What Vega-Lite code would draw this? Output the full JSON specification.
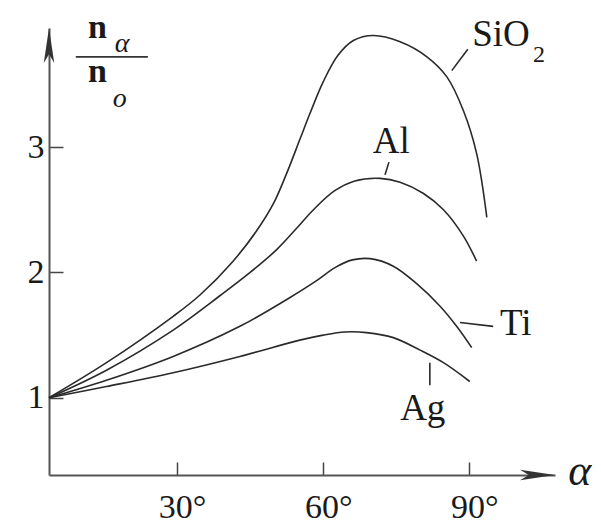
{
  "$schema": "https://vega.github.io/schema/vega-lite/v6.json",
  "width": 506,
  "height": 447,
  "autosize": {"type": "none"},
  "padding": {"left": 49, "top": 28, "right": 46, "bottom": 52},
  "background": "white",
  "config": {
    "view": {"stroke": null},
    "font": "Liberation Serif, Times New Roman, serif"
  },
  "datasets": {
    "curves": [
      {"material": "SiO2", "angle": 3.7, "ratio": 1.0},
      {"material": "SiO2", "angle": 15.5, "ratio": 1.28},
      {"material": "SiO2", "angle": 29.2, "ratio": 1.65},
      {"material": "SiO2", "angle": 34.7, "ratio": 1.82},
      {"material": "SiO2", "angle": 41.5, "ratio": 2.09},
      {"material": "SiO2", "angle": 46.3, "ratio": 2.33},
      {"material": "SiO2", "angle": 49.8, "ratio": 2.55},
      {"material": "SiO2", "angle": 52.5, "ratio": 2.79},
      {"material": "SiO2", "angle": 55.2, "ratio": 3.06},
      {"material": "SiO2", "angle": 57.3, "ratio": 3.27},
      {"material": "SiO2", "angle": 60.0, "ratio": 3.52},
      {"material": "SiO2", "angle": 63.0, "ratio": 3.73},
      {"material": "SiO2", "angle": 66.2, "ratio": 3.85},
      {"material": "SiO2", "angle": 70.3, "ratio": 3.89},
      {"material": "SiO2", "angle": 75.8, "ratio": 3.84},
      {"material": "SiO2", "angle": 81.3, "ratio": 3.72},
      {"material": "SiO2", "angle": 85.4, "ratio": 3.56},
      {"material": "SiO2", "angle": 88.8, "ratio": 3.29},
      {"material": "SiO2", "angle": 91.5, "ratio": 2.95},
      {"material": "SiO2", "angle": 93.6, "ratio": 2.44},
      {"material": "Al", "angle": 3.7, "ratio": 1.0},
      {"material": "Al", "angle": 15.5, "ratio": 1.22},
      {"material": "Al", "angle": 29.2, "ratio": 1.54},
      {"material": "Al", "angle": 39.0, "ratio": 1.82},
      {"material": "Al", "angle": 45.0, "ratio": 2.0},
      {"material": "Al", "angle": 50.4, "ratio": 2.18},
      {"material": "Al", "angle": 54.5, "ratio": 2.35},
      {"material": "Al", "angle": 58.0, "ratio": 2.5},
      {"material": "Al", "angle": 62.3, "ratio": 2.65},
      {"material": "Al", "angle": 66.5, "ratio": 2.73},
      {"material": "Al", "angle": 71.7, "ratio": 2.75},
      {"material": "Al", "angle": 75.8, "ratio": 2.72},
      {"material": "Al", "angle": 80.6, "ratio": 2.63},
      {"material": "Al", "angle": 84.7, "ratio": 2.5},
      {"material": "Al", "angle": 88.8, "ratio": 2.29},
      {"material": "Al", "angle": 91.5, "ratio": 2.09},
      {"material": "Ti", "angle": 3.7, "ratio": 1.0},
      {"material": "Ti", "angle": 15.5, "ratio": 1.14},
      {"material": "Ti", "angle": 29.2, "ratio": 1.33},
      {"material": "Ti", "angle": 42.9, "ratio": 1.57},
      {"material": "Ti", "angle": 53.2, "ratio": 1.8},
      {"material": "Ti", "angle": 58.5, "ratio": 1.93},
      {"material": "Ti", "angle": 62.5, "ratio": 2.04},
      {"material": "Ti", "angle": 66.0, "ratio": 2.1},
      {"material": "Ti", "angle": 69.6, "ratio": 2.11},
      {"material": "Ti", "angle": 74.4, "ratio": 2.05},
      {"material": "Ti", "angle": 79.2, "ratio": 1.91},
      {"material": "Ti", "angle": 84.0, "ratio": 1.73},
      {"material": "Ti", "angle": 87.4, "ratio": 1.57},
      {"material": "Ti", "angle": 90.5, "ratio": 1.4},
      {"material": "Ag", "angle": 3.7, "ratio": 1.0},
      {"material": "Ag", "angle": 15.5, "ratio": 1.09},
      {"material": "Ag", "angle": 29.2, "ratio": 1.2},
      {"material": "Ag", "angle": 42.9, "ratio": 1.33},
      {"material": "Ag", "angle": 55.2, "ratio": 1.46},
      {"material": "Ag", "angle": 60.0, "ratio": 1.5},
      {"material": "Ag", "angle": 64.5, "ratio": 1.525},
      {"material": "Ag", "angle": 68.9, "ratio": 1.52},
      {"material": "Ag", "angle": 74.4, "ratio": 1.48},
      {"material": "Ag", "angle": 79.9, "ratio": 1.38},
      {"material": "Ag", "angle": 84.7, "ratio": 1.28},
      {"material": "Ag", "angle": 90.1, "ratio": 1.13}
    ],
    "leaders": [
      {"material": "SiO2", "a1": 89.7, "r1": 3.78, "a2": 86.4, "r2": 3.61},
      {"material": "Al", "a1": 73.5, "r1": 2.88, "a2": 72.7, "r2": 2.78},
      {"material": "Ti", "a1": 88.1, "r1": 1.6, "a2": 94.9, "r2": 1.57},
      {"material": "Ag", "a1": 81.9, "r1": 1.28, "a2": 81.9, "r2": 1.1}
    ],
    "names": [
      {"text": "SiO", "angle": 90.6, "ratio": 3.81},
      {"text": "Al", "angle": 70.2, "ratio": 2.95},
      {"text": "Ti", "angle": 96.3, "ratio": 1.5},
      {"text": "Ag", "angle": 75.8, "ratio": 0.825}
    ],
    "subscripts": [
      {"text": "2", "angle": 103.1, "ratio": 3.68}
    ],
    "boldN": [
      {"text": "n", "angle": 11.7, "ratio": 3.87},
      {"text": "n", "angle": 11.7, "ratio": 3.52}
    ],
    "italics": [
      {"text": "α", "angle": 17.2, "ratio": 3.76},
      {"text": "o", "angle": 16.8, "ratio": 3.32}
    ],
    "axisSymbol": [
      {"text": "α", "angle": 110.3, "ratio": 0.307}
    ],
    "fractionBar": [
      {"a1": 9.2, "a2": 24.0, "r": 3.72}
    ],
    "yArrow": [{"angle": 3.7, "ratio": 3.95}],
    "xArrow": [{"angle": 107.6, "ratio": 0.384}]
  },
  "layer": [
    {
      "data": {"name": "curves"},
      "mark": {"type": "line", "interpolate": "catmull-rom", "color": "#2a2a2a", "strokeWidth": 1.6},
      "encoding": {
        "x": {
          "field": "angle", "type": "quantitative",
          "scale": {"domain": [3.7, 107.6], "nice": false, "zero": false},
          "axis": {
            "values": [30, 60, 90],
            "labelExpr": "datum.value + '°'",
            "title": null,
            "grid": false,
            "domainColor": "#555",
            "domainWidth": 2,
            "tickColor": "#444",
            "tickWidth": 1.5,
            "tickSize": -13,
            "labelPadding": 28,
            "labelFont": "Liberation Serif, Times New Roman, serif",
            "labelFontSize": 34,
            "labelColor": "#1a1a1a",
            "labelOffset": 5,
            "labelFlush": false
          }
        },
        "y": {
          "field": "ratio", "type": "quantitative",
          "scale": {"domain": [0.384, 3.95], "nice": false, "zero": false},
          "axis": {
            "values": [1, 2, 3],
            "format": "d",
            "title": null,
            "grid": false,
            "domainColor": "#555",
            "domainWidth": 2,
            "tickColor": "#444",
            "tickWidth": 1.5,
            "tickSize": -14,
            "labelPadding": 19,
            "labelFont": "Liberation Serif, Times New Roman, serif",
            "labelFontSize": 34,
            "labelColor": "#1a1a1a",
            "labelFlush": false
          }
        },
        "detail": {"field": "material", "type": "nominal"}
      }
    },
    {
      "data": {"name": "leaders"},
      "mark": {"type": "rule", "color": "#2a2a2a", "strokeWidth": 1.6},
      "encoding": {
        "x": {"field": "a1", "type": "quantitative"},
        "x2": {"field": "a2"},
        "y": {"field": "r1", "type": "quantitative"},
        "y2": {"field": "r2"}
      }
    },
    {
      "data": {"name": "fractionBar"},
      "mark": {"type": "rule", "color": "#333", "strokeWidth": 1.6},
      "encoding": {
        "x": {"field": "a1", "type": "quantitative"},
        "x2": {"field": "a2"},
        "y": {"field": "r", "type": "quantitative"}
      }
    },
    {
      "data": {"name": "yArrow"},
      "mark": {"type": "point", "shape": "M0,0L-0.3,2L0,1.5L0.3,2Z", "size": 1225, "filled": true, "color": "#333", "opacity": 1},
      "encoding": {
        "x": {"field": "angle", "type": "quantitative"},
        "y": {"field": "ratio", "type": "quantitative"}
      }
    },
    {
      "data": {"name": "xArrow"},
      "mark": {"type": "point", "shape": "M0,0L-0.3,2L0,1.5L0.3,2Z", "size": 1225, "angle": 90, "filled": true, "color": "#333", "opacity": 1},
      "encoding": {
        "x": {"field": "angle", "type": "quantitative"},
        "y": {"field": "ratio", "type": "quantitative"}
      }
    },
    {
      "data": {"name": "names"},
      "mark": {"type": "text", "font": "Liberation Serif, Times New Roman, serif", "fontSize": 37, "align": "left", "baseline": "alphabetic", "color": "#1a1a1a"},
      "encoding": {
        "x": {"field": "angle", "type": "quantitative"},
        "y": {"field": "ratio", "type": "quantitative"},
        "text": {"field": "text"}
      }
    },
    {
      "data": {"name": "subscripts"},
      "mark": {"type": "text", "font": "Liberation Serif, Times New Roman, serif", "fontSize": 24, "align": "left", "baseline": "alphabetic", "color": "#1a1a1a"},
      "encoding": {
        "x": {"field": "angle", "type": "quantitative"},
        "y": {"field": "ratio", "type": "quantitative"},
        "text": {"field": "text"}
      }
    },
    {
      "data": {"name": "boldN"},
      "mark": {"type": "text", "font": "Liberation Serif, Times New Roman, serif", "fontSize": 34, "fontWeight": "bold", "align": "left", "baseline": "alphabetic", "color": "#1a1a1a"},
      "encoding": {
        "x": {"field": "angle", "type": "quantitative"},
        "y": {"field": "ratio", "type": "quantitative"},
        "text": {"field": "text"}
      }
    },
    {
      "data": {"name": "italics"},
      "mark": {"type": "text", "font": "Liberation Serif, Times New Roman, serif", "fontSize": 28, "fontStyle": "italic", "align": "left", "baseline": "alphabetic", "color": "#1a1a1a"},
      "encoding": {
        "x": {"field": "angle", "type": "quantitative"},
        "y": {"field": "ratio", "type": "quantitative"},
        "text": {"field": "text"}
      }
    },
    {
      "data": {"name": "axisSymbol"},
      "mark": {"type": "text", "font": "Liberation Serif, Times New Roman, serif", "fontSize": 44, "fontStyle": "italic", "align": "left", "baseline": "alphabetic", "color": "#1a1a1a"},
      "encoding": {
        "x": {"field": "angle", "type": "quantitative"},
        "y": {"field": "ratio", "type": "quantitative"},
        "text": {"field": "text"}
      }
    }
  ]
}
